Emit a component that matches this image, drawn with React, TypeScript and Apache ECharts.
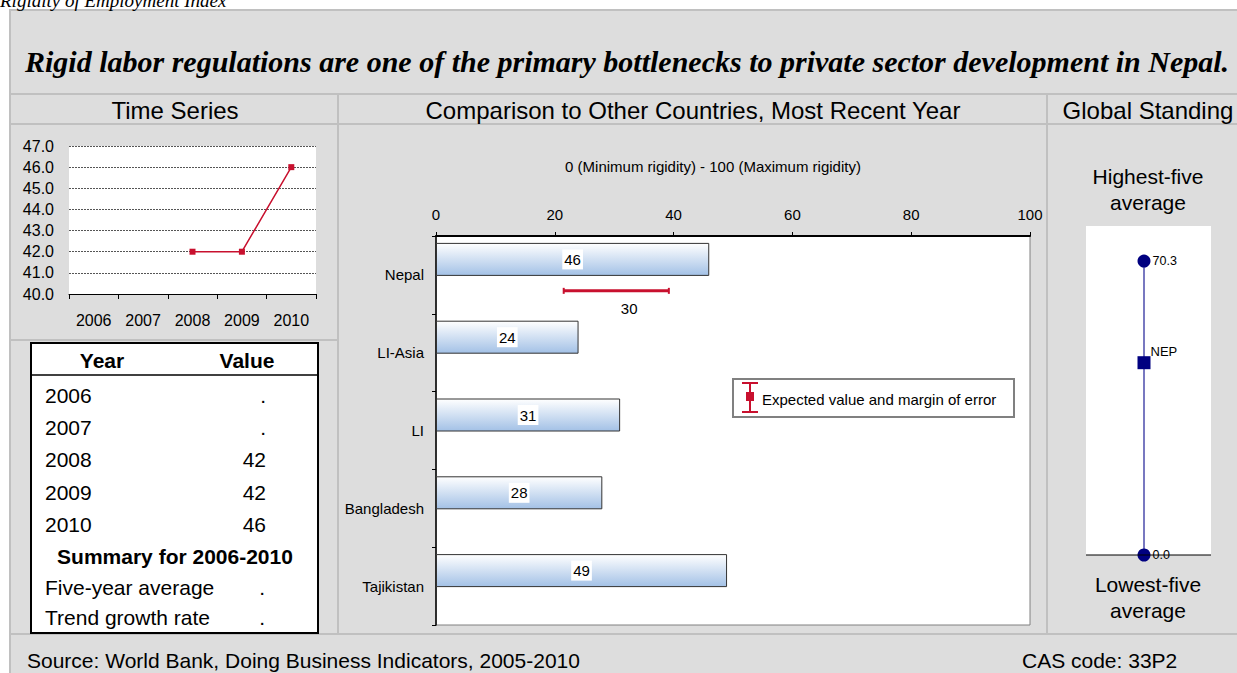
import React, { useEffect, useRef } from "react";
import * as echarts from "echarts";

// ---------- data ----------
const years = ["2006", "2007", "2008", "2009", "2010"];
const seriesValues: (number | null)[] = [null, null, 42, 42, 46];
const tableValues = [".", ".", "42", "42", "46"];
const summaryLabels = ["Five-year average", "Trend growth rate"];
const summaryValues = [".", "."];

const countries = ["Nepal", "LI-Asia", "LI", "Bangladesh", "Tajikistan"];
const countryValues = [46, 24, 31, 28, 49];
const expectedCountry = ["Nepal"];
const expectedValue = [30];
const expectedLow = [21.5];
const expectedHigh = [39.2];

const standingCountry = "NEP";
const standingValue = 46;
const standingHigh = 70.3;
const standingLow = 0.0;

const FONT = "Liberation Sans, Arial, sans-serif";
const SERIF = "Liberation Serif, Times New Roman, serif";
const RED = "#c8102e";
const PANEL_LINE = "#c0c0c0";

function txt(text: string, x: number, y: number, size: number, opts: any = {}) {
  return {
    type: "text",
    x,
    y,
    z: opts.z ?? 5,
    style: {
      text,
      fill: "#000",
      fontSize: size,
      fontFamily: opts.family ?? FONT,
      fontWeight: opts.weight ?? "normal",
      fontStyle: opts.style ?? "normal",
      align: opts.align ?? "left",
      verticalAlign: opts.valign ?? "middle",
    },
  };
}

function ln(x1: number, y1: number, x2: number, y2: number, color = PANEL_LINE, w = 2, z = -5) {
  return {
    type: "line",
    z,
    shape: { x1, y1, x2, y2 },
    style: { stroke: color, lineWidth: w },
  };
}

export default function App() {
  const ref = useRef<HTMLDivElement>(null);

  useEffect(() => {
    if (!ref.current) return;
    const chart = echarts.init(ref.current, undefined, { renderer: "svg" });

    const tableRowsY = [395, 427, 459, 492, 524];
    const graphics: any[] = [
      // background panel
      {
        type: "rect",
        z: -10,
        shape: { x: 10, y: 10, width: 1250, height: 680 },
        style: { fill: "#dddddd", stroke: PANEL_LINE, lineWidth: 2 },
      },
      txt("Rigidity of Employment Index", 0, 10, 19, { family: SERIF, style: "italic", valign: "bottom" }),
      txt(
        "Rigid labor regulations are one of the primary bottlenecks to private sector development in Nepal.",
        627,
        61,
        30,
        { family: SERIF, style: "italic", weight: "bold", align: "center" }
      ),
      ln(10, 94, 1250, 94),
      ln(10, 124, 1250, 124),
      ln(338, 94, 338, 634),
      ln(1047, 94, 1047, 634),
      ln(10, 340, 338, 340),
      ln(10, 634, 1250, 634),
      txt("Time Series", 175, 110, 24, { align: "center" }),
      txt("Comparison to Other Countries, Most Recent Year", 693, 110, 24, { align: "center" }),
      txt("Global Standing", 1148, 110, 24, { align: "center" }),
      // table
      {
        type: "rect",
        z: 1,
        shape: { x: 31, y: 343, width: 287, height: 290 },
        style: { fill: "#fff", stroke: "#000", lineWidth: 2 },
      },
      ln(31, 375, 318, 375, "#000", 1.5, 2),
      txt("Year", 102, 360, 21, { weight: "bold", align: "center" }),
      txt("Value", 247, 360, 21, { weight: "bold", align: "center" }),
      ...years.map((y, i) => txt(y, 45, tableRowsY[i], 21)),
      ...tableValues.map((v, i) => txt(v, 266, tableRowsY[i], 21, { align: "right" })),
      txt("Summary for 2006-2010", 175, 556, 21, { weight: "bold", align: "center" }),
      ...summaryLabels.map((s, i) => txt(s, 45, 587 + i * 30, 21)),
      ...summaryValues.map((v, i) => txt(v, 265, 587 + i * 30, 21, { align: "right" })),
      // bar chart subtitle
      txt("0 (Minimum rigidity) - 100 (Maximum rigidity)", 713, 166, 15, { align: "center" }),
      // legend
      {
        type: "rect",
        z: 10,
        shape: { x: 733, y: 379, width: 281, height: 38 },
        style: { fill: "#fff", stroke: "#808080", lineWidth: 2 },
      },
      ln(750, 383, 750, 412, RED, 2, 11),
      ln(742, 383, 758, 383, RED, 2, 11),
      ln(742, 412, 758, 412, RED, 2, 11),
      {
        type: "rect",
        z: 11,
        shape: { x: 746, y: 392, width: 8, height: 9 },
        style: { fill: RED },
      },
      txt("Expected value and margin of error", 762, 399, 15, { z: 11 }),
      // global standing
      txt("Highest-five", 1148, 176, 21, { align: "center" }),
      txt("average", 1148, 202, 21, { align: "center" }),
      {
        type: "rect",
        z: -4,
        shape: { x: 1086, y: 226, width: 125, height: 329 },
        style: { fill: "#fff" },
      },
      ln(1086, 555, 1211, 555, "#000", 1, 20),
      txt("Lowest-five", 1148, 584, 21, { align: "center" }),
      txt("average", 1148, 610, 21, { align: "center" }),
      // footer
      txt("Source: World Bank, Doing Business Indicators, 2005-2010", 27, 660, 21),
      txt("CAS code: 33P2", 1022, 660, 21),
    ];

    const option: any = {
      animation: false,
      textStyle: { fontFamily: FONT },
      grid: [
        {
          left: 69, top: 146, width: 247, height: 148,
          show: true, backgroundColor: "#fff", borderWidth: 0,
        },
        {
          left: 436, top: 236, width: 594, height: 389,
          show: true, backgroundColor: "#fff", borderColor: "#808080", borderWidth: 1,
        },
        { left: 1086, top: 226, width: 116, height: 329, show: false },
      ],
      xAxis: [
        {
          gridIndex: 0,
          type: "category",
          data: years,
          boundaryGap: true,
          axisLine: { lineStyle: { color: "#000", width: 1 } },
          axisTick: { show: true, length: 5, lineStyle: { color: "#000" } },
          axisLabel: { color: "#000", fontSize: 16, margin: 18 },
        },
        {
          gridIndex: 1,
          type: "value",
          position: "top",
          min: 0,
          max: 100,
          interval: 20,
          axisLine: { show: true, lineStyle: { color: "#000", width: 2 } },
          axisTick: { show: true, length: 4, lineStyle: { color: "#000" } },
          axisLabel: { color: "#000", fontSize: 15, margin: 14 },
          splitLine: { show: false },
        },
        {
          gridIndex: 2,
          type: "category",
          data: [standingCountry],
          show: false,
        },
      ],
      yAxis: [
        {
          gridIndex: 0,
          type: "value",
          min: 40,
          max: 47,
          interval: 1,
          axisLine: { show: false },
          axisTick: { show: false },
          axisLabel: {
            color: "#000",
            fontSize: 16,
            margin: 15,
            formatter: (v: number) => v.toFixed(1),
          },
          splitLine: { show: true, lineStyle: { color: "#555", type: [2, 1], width: 1 } },
        },
        {
          gridIndex: 1,
          type: "category",
          data: countries,
          inverse: true,
          axisLine: { show: true, lineStyle: { color: "#000", width: 1.5 } },
          axisTick: { show: true, length: 4, lineStyle: { color: "#000" } },
          axisLabel: { color: "#000", fontSize: 15, margin: 12 },
        },
        {
          gridIndex: 2,
          type: "value",
          min: 0,
          max: 78.7,
          show: false,
          splitLine: { show: false },
        },
      ],
      series: [
        {
          type: "line",
          xAxisIndex: 0,
          yAxisIndex: 0,
          data: seriesValues,
          symbol: "rect",
          symbolSize: 6,
          itemStyle: { color: RED },
          lineStyle: { color: RED, width: 1.5 },
        },
        {
          type: "bar",
          xAxisIndex: 1,
          yAxisIndex: 1,
          data: countryValues,
          barWidth: 33,
          barGap: "0%",
          itemStyle: {
            color: new echarts.graphic.LinearGradient(0, 0, 0, 1, [
              { offset: 0, color: "#ffffff" },
              { offset: 1, color: "#a3c1e6" },
            ]),
            borderColor: "#333",
            borderWidth: 1,
          },
          label: {
            show: true,
            position: "inside",
            color: "#000",
            fontSize: 15,
            backgroundColor: "#fff",
            padding: [3, 2, 2, 2],
          },
        },
        {
          type: "bar",
          xAxisIndex: 1,
          yAxisIndex: 1,
          data: countries.map(() => "-"),
          barWidth: 31,
          barGap: "0%",
          silent: true,
        },
        {
          type: "custom",
          xAxisIndex: 1,
          yAxisIndex: 1,
          z: 5,
          encode: { x: [0, 2, 3], y: 1 },
          data: expectedCountry.map((c, i) => [expectedLow[i], c, expectedHigh[i], expectedValue[i]]),
          renderItem: (params: any, api: any) => {
            const lo = api.coord([api.value(0), api.value(1)]);
            const hi = api.coord([api.value(2), api.value(1)]);
            const mid = api.coord([api.value(3), api.value(1)]);
            const band = api.size([0, 1])[1];
            const y = lo[1] + band * 0.205;
            return {
              type: "group",
              children: [
                { type: "line", shape: { x1: lo[0], y1: y, x2: hi[0], y2: y }, style: { stroke: RED, lineWidth: 3 } },
                { type: "line", shape: { x1: lo[0], y1: y - 3, x2: lo[0], y2: y + 3 }, style: { stroke: RED, lineWidth: 2 } },
                { type: "line", shape: { x1: hi[0], y1: y - 3, x2: hi[0], y2: y + 3 }, style: { stroke: RED, lineWidth: 2 } },
                {
                  type: "text",
                  x: mid[0] + 15,
                  y: y + 18,
                  style: {
                    text: String(api.value(3)),
                    fill: "#000",
                    fontSize: 15,
                    fontFamily: FONT,
                    align: "center",
                    verticalAlign: "middle",
                  },
                },
              ],
            };
          },
        },
        {
          type: "line",
          xAxisIndex: 2,
          yAxisIndex: 2,
          data: [[0, standingLow], [0, standingHigh]],
          symbol: "none",
          lineStyle: { color: "#7878c0", width: 2 },
          z: 3,
        },
        {
          type: "scatter",
          xAxisIndex: 2,
          yAxisIndex: 2,
          data: [[0, standingHigh], [0, standingLow]],
          symbol: "circle",
          symbolSize: 13,
          itemStyle: { color: "#000080", opacity: 1 },
          clip: true,
          z: 4,
          label: {
            show: true,
            position: "right",
            distance: 2,
            color: "#000",
            fontSize: 12.5,
            formatter: (p: any) => p.value[1].toFixed(1),
          },
        },
        {
          type: "scatter",
          xAxisIndex: 2,
          yAxisIndex: 2,
          data: [[0, standingValue]],
          symbol: "rect",
          symbolSize: 13,
          itemStyle: { color: "#000080", opacity: 1 },
          z: 4,
          label: {
            show: true,
            position: [13, -5],
            align: "left",
            verticalAlign: "middle",
            color: "#000",
            fontSize: 13,
            formatter: () => standingCountry,
          },
        },
      ],
      graphic: { elements: graphics },
    };

    chart.setOption(option);
    return () => chart.dispose();
  }, []);

  return (
    <div
      ref={ref}
      style={{ position: "absolute", left: 0, top: 0, width: 1237, height: 673 }}
    />
  );
}
